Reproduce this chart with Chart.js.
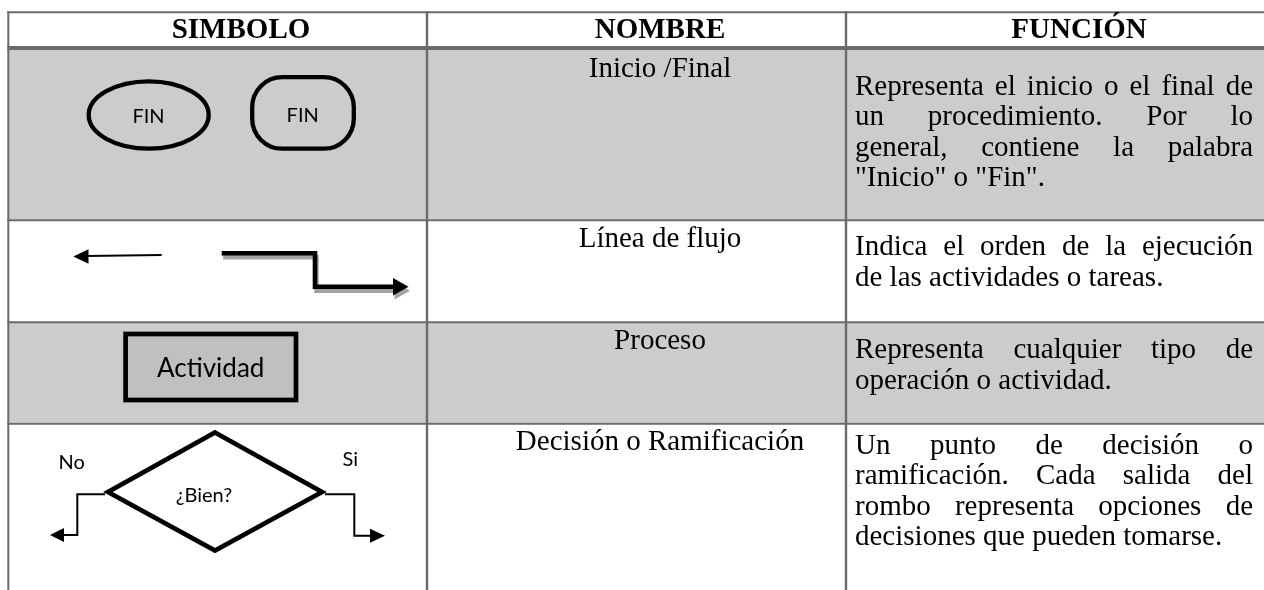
<!DOCTYPE html>
<html><head><meta charset="utf-8">
<script src="https://cdn.jsdelivr.net/npm/chart.js@4.4.1/dist/chart.umd.min.js"></script>
<style>html,body{margin:0;padding:0;background:#fff;overflow:hidden}#wrap{width:1264px;height:590px}</style>
</head><body><div id="wrap"><canvas id="c" width="1264" height="590"></canvas></div>
<script>
// ---- content ----
const headers = ["SIMBOLO", "NOMBRE", "FUNCIÓN"];
const nombres = ["Inicio /Final", "Línea de flujo", "Proceso", "Decisión o Ramificación"];
const funciones = [
  ["Representa el inicio o el final de", "un procedimiento. Por lo", "general, contiene la palabra", "\"Inicio\" o \"Fin\"."],
  ["Indica el orden de la ejecución", "de las actividades o tareas."],
  ["Representa cualquier tipo de", "operación o actividad."],
  ["Un punto de decisión o", "ramificación. Cada salida del", "rombo representa opciones de", "decisiones que pueden tomarse."]
];
const simboloTextos = ["FIN", "FIN", "Actividad", "¿Bien?", "No", "Si"];
const filaSombreada = [true, false, true, false];

// ---- layout (positions in the 1264x590 value space) ----
const L = {
  left: 8.3, right: 1264, top: 12.3, bottom: 590,
  colLines: [427, 846],
  headerLine: 48,
  rowTops: [50, 220.3, 322.2, 423.7],
  rowBottoms: [219.3, 321.2, 422.7, 590],
  headerBase: 38, headerCx: [241, 660, 1079],
  nameCx: 660, nameBase: [77, 247, 349, 450],
  funcLeft: 855, funcRight: 1253, funcBase: [94.5, 255, 358, 453.5], lineH: 30.5
};
const COL = { grid: '#6a6a6a', shade: '#cccccc', ink: '#000000', box: '#c0c0c0', shadow: '#a3a3a3' };
const SERIF = '"Liberation Serif", "Times New Roman", serif';
const SANS = 'Lato, "Open Sans", sans-serif';

const tablePlugin = {
  id: 'tabla',
  afterDatasetsDraw(chart) {
    const ctx = chart.ctx;
    const sx = chart.scales.x, sy = chart.scales.y;
    const X = v => sx.getPixelForValue(v);
    const Y = v => sy.getPixelForValue(v);
    ctx.save();
    // row shading
    ctx.fillStyle = COL.shade;
    filaSombreada.forEach((s, i) => {
      if (!s) return;
      ctx.fillRect(X(L.left), Y(L.rowTops[i]), X(L.right) - X(L.left), Y(L.rowBottoms[i]) - Y(L.rowTops[i]));
    });
    // grid lines
    ctx.strokeStyle = COL.grid;
    const hline = (y, w) => { ctx.lineWidth = w; ctx.beginPath(); ctx.moveTo(X(L.left - 1), Y(y)); ctx.lineTo(X(L.right), Y(y)); ctx.stroke(); };
    const vline = (x, y0, y1, w) => { ctx.lineWidth = w; ctx.beginPath(); ctx.moveTo(X(x), Y(y0)); ctx.lineTo(X(x), Y(y1)); ctx.stroke(); };
    hline(L.top, 2);
    hline(L.headerLine, 4);
    L.rowTops.slice(1).forEach(y => hline(y, 2));
    vline(L.left, L.top - 1, L.bottom, 2);
    L.colLines.forEach(x => vline(x, L.top - 1, L.bottom, 2.4));

    // header text
    ctx.fillStyle = COL.ink;
    ctx.textBaseline = 'alphabetic';
    ctx.textAlign = 'center';
    ctx.font = 'bold 29px ' + SERIF;
    headers.forEach((h, i) => ctx.fillText(h, X(L.headerCx[i]), Y(L.headerBase)));
    // names
    ctx.font = '29px ' + SERIF;
    nombres.forEach((n, i) => ctx.fillText(n, X(L.nameCx), Y(L.nameBase[i])));
    // justified function text
    ctx.textAlign = 'left';
    const spaceW = ctx.measureText(' ').width;
    funciones.forEach((lines, r) => {
      lines.forEach((ln, k) => {
        const y = Y(L.funcBase[r] + k * L.lineH);
        const words = ln.split(' ');
        const last = k === lines.length - 1;
        if (last || words.length < 2) {
          let x = X(L.funcLeft);
          words.forEach(w => { ctx.fillText(w, x, y); x += ctx.measureText(w).width + spaceW; });
          return;
        }
        const tot = words.reduce((a, w) => a + ctx.measureText(w).width, 0);
        const gap = (X(L.funcRight) - X(L.funcLeft) - tot) / (words.length - 1);
        let x = X(L.funcLeft);
        words.forEach(w => { ctx.fillText(w, x, y); x += ctx.measureText(w).width + gap; });
      });
    });

    // ---- symbols ----
    ctx.strokeStyle = COL.ink;
    ctx.lineJoin = 'miter';
    // ellipse
    ctx.lineWidth = 4.3;
    ctx.beginPath();
    ctx.ellipse(X(148.7), Y(115), X(60) - X(0), Y(33.6) - Y(0), 0, 0, Math.PI * 2);
    ctx.stroke();
    // stadium
    ctx.beginPath();
    ctx.roundRect(X(252.2), Y(77.2), X(101.6) - X(0), Y(71.5) - Y(0), 30);
    ctx.stroke();
    ctx.textAlign = 'center';
    ctx.font = '20px ' + SANS;
    ctx.fillText(simboloTextos[0], X(148.5), Y(122.7));
    ctx.fillText(simboloTextos[1], X(302.7), Y(122.2));

    // simple left arrow
    ctx.lineWidth = 2;
    ctx.beginPath(); ctx.moveTo(X(86), Y(256)); ctx.lineTo(X(161.7), Y(255)); ctx.stroke();
    ctx.beginPath(); ctx.moveTo(X(73.3), Y(256.5)); ctx.lineTo(X(88.5), Y(249.3)); ctx.lineTo(X(88.5), Y(263.8)); ctx.closePath(); ctx.fill();

    // step arrow with shadow
    const step = (dx, dy, color) => {
      ctx.strokeStyle = color; ctx.fillStyle = color; ctx.lineWidth = 4.6;
      ctx.beginPath();
      ctx.moveTo(X(221.7 + dx), Y(253.3 + dy));
      ctx.lineTo(X(315 + dx), Y(253.3 + dy));
      ctx.lineTo(X(315 + dx), Y(286.7 + dy));
      ctx.lineTo(X(395 + dx), Y(286.7 + dy));
      ctx.stroke();
      ctx.beginPath();
      ctx.moveTo(X(393 + dx), Y(278 + dy)); ctx.lineTo(X(408.5 + dx), Y(286.7 + dy)); ctx.lineTo(X(393 + dx), Y(295.5 + dy));
      ctx.closePath(); ctx.fill();
    };
    step(1.5, 4, COL.shadow);
    step(0, 0, COL.ink);

    // process box
    ctx.fillStyle = COL.box;
    ctx.strokeStyle = COL.ink;
    ctx.lineWidth = 4.7;
    ctx.fillRect(X(125.6), Y(334), X(170.4) - X(0), Y(66) - Y(0));
    ctx.strokeRect(X(125.6), Y(334), X(170.4) - X(0), Y(66) - Y(0));
    ctx.fillStyle = COL.ink;
    ctx.font = '26px ' + SANS;
    ctx.fillText(simboloTextos[2], X(210.7), Y(377.3));

    // decision diamond
    ctx.lineWidth = 4.7;
    ctx.beginPath();
    ctx.moveTo(X(215), Y(432.5));
    ctx.lineTo(X(322), Y(492));
    ctx.lineTo(X(215), Y(550.5));
    ctx.lineTo(X(108), Y(492));
    ctx.closePath(); ctx.stroke();
    ctx.font = '20px ' + SANS;
    ctx.fillText(simboloTextos[3], X(204), Y(501.7));
    ctx.fillText(simboloTextos[4], X(71.7), Y(469.3));
    ctx.fillText(simboloTextos[5], X(350.3), Y(466));
    // branches
    ctx.lineWidth = 2;
    ctx.beginPath();
    ctx.moveTo(X(105), Y(494.3)); ctx.lineTo(X(77.3), Y(494.3)); ctx.lineTo(X(77.3), Y(535)); ctx.lineTo(X(62), Y(535));
    ctx.stroke();
    ctx.beginPath(); ctx.moveTo(X(50), Y(535)); ctx.lineTo(X(64), Y(528)); ctx.lineTo(X(64), Y(542)); ctx.closePath(); ctx.fill();
    ctx.beginPath();
    ctx.moveTo(X(325), Y(494.3)); ctx.lineTo(X(354.3), Y(494.3)); ctx.lineTo(X(354.3), Y(535.7)); ctx.lineTo(X(372), Y(535.7));
    ctx.stroke();
    ctx.beginPath(); ctx.moveTo(X(385), Y(535.7)); ctx.lineTo(X(370), Y(528.7)); ctx.lineTo(X(370), Y(542.7)); ctx.closePath(); ctx.fill();
    ctx.restore();
  }
};

const chart = new Chart(document.getElementById('c').getContext('2d'), {
  type: 'scatter',
  data: { datasets: [{ data: [], pointRadius: 0 }] },
  options: {
    responsive: false, animation: false,
    layout: { padding: 0 },
    plugins: { legend: { display: false }, tooltip: { enabled: false } },
    scales: {
      x: { type: 'linear', min: 0, max: 1264, display: false },
      y: { type: 'linear', min: 0, max: 590, reverse: true, display: false }
    }
  },
  plugins: [tablePlugin]
});
</script></body></html>
